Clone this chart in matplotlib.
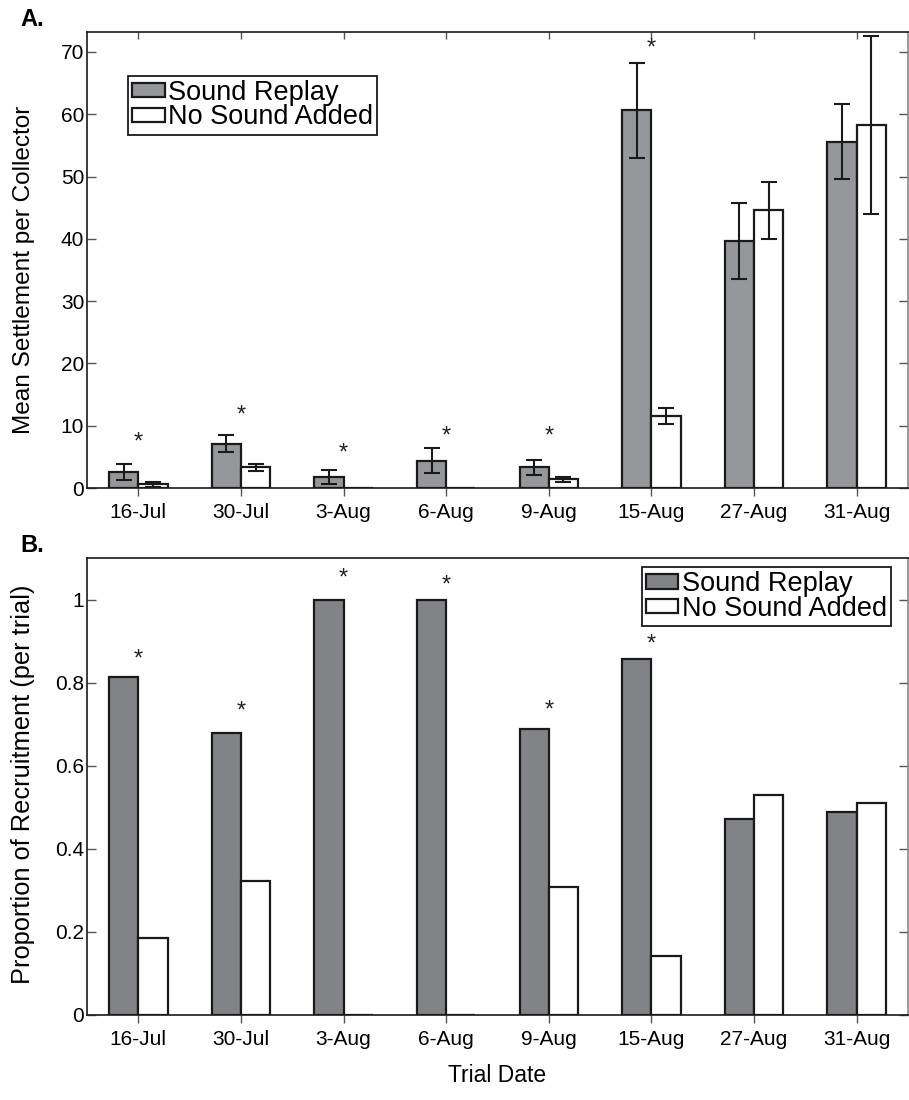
import matplotlib
matplotlib.use("Agg")
import matplotlib.pyplot as plt
import numpy as np

plt.rcParams['font.family'] = ['Liberation Sans', 'DejaVu Sans']

# ---- data ----
dates = ["16-Jul", "30-Jul", "3-Aug", "6-Aug", "9-Aug", "15-Aug", "27-Aug", "31-Aug"]
series_names = ["Sound Replay", "No Sound Added"]

settle_sound = [2.6, 7.1, 1.8, 4.4, 3.3, 60.6, 39.6, 55.6]
settle_sound_err = [1.3, 1.4, 1.1, 2.0, 1.2, 7.6, 6.1, 6.0]
settle_none = [0.6, 3.3, 0.0, 0.0, 1.4, 11.6, 44.6, 58.3]
settle_none_err = [0.4, 0.5, 0.0, 0.0, 0.4, 1.3, 4.6, 14.3]
settle_star = [7.9, 12.2, 6.1, 8.9, 8.9, 71.1, None, None]

prop_sound = [0.813, 0.678, 1.0, 1.0, 0.689, 0.857, 0.471, 0.488]
prop_none = [0.186, 0.323, 0.0, 0.0, 0.309, 0.143, 0.530, 0.511]
prop_star = [0.865, 0.741, 1.06, 1.042, 0.742, 0.901, None, None]

top_yticks = [0, 10, 20, 30, 40, 50, 60, 70]
bot_yticks = [0, 0.2, 0.4, 0.6, 0.8, 1]
bot_yticklabels = ["0", "0.2", "0.4", "0.6", "0.8", "1"]

# ---- figure ----
W, H = 909, 1100
fig = plt.figure(figsize=(W / 100, H / 100), dpi=100)

def frac(x0, y0, x1, y1):
    return [x0 / W, 1 - y1 / H, (x1 - x0) / W, (y1 - y0) / H]

ax1 = fig.add_axes(frac(87, 32, 908, 488))
ax2 = fig.add_axes(frac(87, 558, 908, 1015))

x = np.arange(1, len(dates) + 1)
bw = 0.285
off = bw / 2
edge = "#1a1a1a"
tick_fs = 15
leg_fs = 19.5
star_fs = 17

def style_axes(ax, top_ticks):
    for s in ax.spines.values():
        s.set_linewidth(1.2)
        s.set_color("#1a1a1a")
    ax.spines['right'].set_color("#888888")
    ax.tick_params(axis='y', direction='in', length=6.5, width=1.0, color="#555555",
                   labelsize=tick_fs, right=True, pad=2)
    ax.tick_params(axis='x', direction='out', length=6, width=1.0, color="#555555",
                   labelsize=tick_fs, pad=5)
    ax.set_xticks(x)
    ax.set_xticklabels(dates)
    ax.set_xlim(0.5, 8.5)
    if top_ticks:
        sec = ax.secondary_xaxis('top')
        sec.set_xticks(x)
        sec.set_xticklabels([])
        sec.tick_params(direction='in', length=5, width=1.0, color="#555555")
        sec.spines['top'].set_visible(False)

def stars(ax, vals):
    for xi, s in zip(x, vals):
        if s is not None:
            ax.annotate("*", xy=(xi, s), xytext=(0, -0.42 * star_fs), textcoords='offset points',
                        ha='center', va='baseline', fontsize=star_fs, color="#222222")

# ---- panel A ----
ax1.bar(x - off, settle_sound, bw, color="#96979b", edgecolor=edge, linewidth=1.6,
        label=series_names[0], zorder=2)
ax1.bar(x + off, settle_none, bw, color="white", edgecolor=edge, linewidth=1.6,
        label=series_names[1], zorder=2)
se = np.array(settle_sound_err)
ne = np.array(settle_none_err)
ax1.errorbar(x - off, settle_sound, yerr=se, fmt='none', ecolor="#1a1a1a",
             elinewidth=1.5, capsize=5.5, capthick=1.5, zorder=3)
mask = ne > 0
ax1.errorbar((x + off)[mask], np.array(settle_none)[mask], yerr=ne[mask], fmt='none',
             ecolor="#1a1a1a", elinewidth=1.5, capsize=5.5, capthick=1.5, zorder=3)
stars(ax1, settle_star)
ax1.set_ylim(0, 73.2)
ax1.set_yticks(top_yticks)
ax1.set_ylabel("Mean Settlement per Collector", fontsize=17.6)
ax1.yaxis.set_label_coords((35 - 87) / 821, 0.478)
style_axes(ax1, True)
leg1 = ax1.legend(loc='upper left', bbox_to_anchor=(0.05, 0.904), fontsize=leg_fs,
                  frameon=True, fancybox=False, edgecolor="#1a1a1a", framealpha=1,
                  handlelength=1.2, handleheight=0.45, handletextpad=0.12,
                  borderpad=0.15, labelspacing=-0.05, borderaxespad=0)
leg1.get_frame().set_linewidth(1.3)

# ---- panel B ----
ax2.bar(x - off, prop_sound, bw, color="#828387", edgecolor=edge, linewidth=1.6,
        label=series_names[0], zorder=2)
ax2.bar(x + off, prop_none, bw, color="white", edgecolor=edge, linewidth=1.6,
        label=series_names[1], zorder=2)
stars(ax2, prop_star)
ax2.set_ylim(0, 1.1)
ax2.set_yticks(bot_yticks)
ax2.set_yticklabels(bot_yticklabels)
ax2.set_ylabel("Proportion of Recruitment (per trial)", fontsize=18.3)
ax2.yaxis.set_label_coords((35 - 87) / 821, 0.505)
ax2.set_xlabel("Trial Date", fontsize=16.5)
ax2.xaxis.set_label_coords(0.5, (1015 - 1064) / 457)
style_axes(ax2, False)
leg2 = ax2.legend(loc='upper right', bbox_to_anchor=(0.979, 0.98), fontsize=leg_fs,
                  frameon=True, fancybox=False, edgecolor="#1a1a1a", framealpha=1,
                  handlelength=1.2, handleheight=0.45, handletextpad=0.12,
                  borderpad=0.15, labelspacing=-0.05, borderaxespad=0)
leg2.get_frame().set_linewidth(1.3)

# panel letters
fig.text(20 / W, 1 - 26 / H, "A.", fontsize=17, fontweight='bold', ha='left', va='baseline')
fig.text(20 / W, 1 - 552 / H, "B.", fontsize=17, fontweight='bold', ha='left', va='baseline')

fig.savefig("out.png", dpi=100)
